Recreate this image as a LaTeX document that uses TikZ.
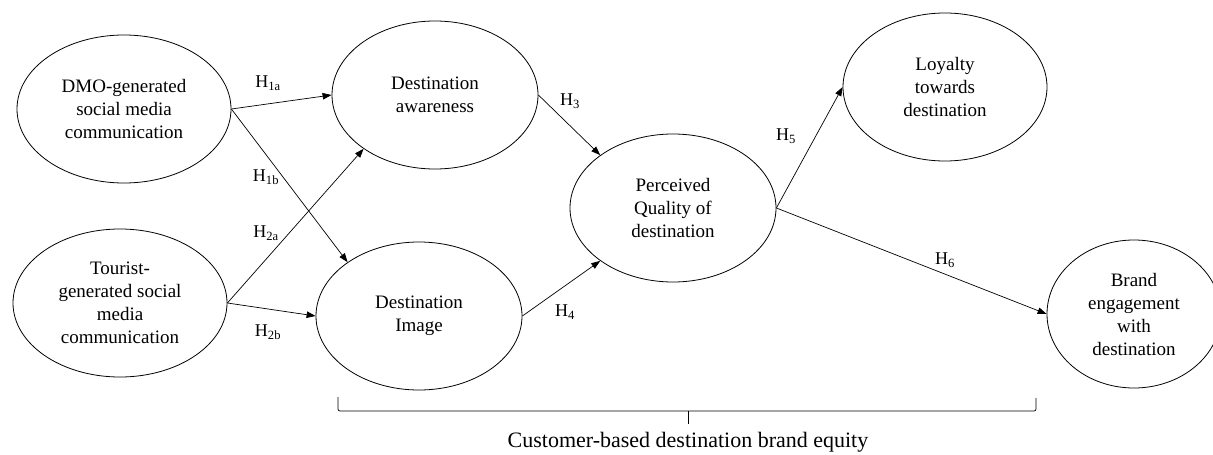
\documentclass[tikz,border=0pt]{standalone}
\usepackage{fontspec}
\setmainfont{Liberation Serif}
\usepackage{tikz}
\usetikzlibrary{shapes.geometric,arrows.meta}
\tikzstyle{construct} = [draw=black, ellipse, line width=0.8pt, inner sep=0pt, minimum width=206pt, minimum height=148pt, align=center, font={\fontsize{19}{23}\selectfont}]
\tikzstyle{hyp} = [inner sep=1pt, font={\fontsize{18}{22}\selectfont}]
\tikzstyle{path} = [-{Triangle[length=9pt,width=6.5pt]}, line width=0.7pt]

\begin{document}
\begin{tikzpicture}[x=1pt,y=-1pt]
    \useasboundingbox (0,0) rectangle (1213,455);
    \node[construct,minimum width=214pt](dmo) at (124,109){DMO-generated\\social media\\communication};
    \node[construct,minimum width=214pt](tour) at (120,303){Tourist-\\generated social\\media\\communication};
    \node[construct](aw) at (435,95){Destination\\awareness};
    \node[construct](im) at (419,316){Destination\\Image};
    \node[construct](pq) at (673,208){Perceived\\Quality of\\destination};
    \node[construct,minimum width=204pt](loy) at (945,87){Loyalty\\towards\\destination};
    \node[construct,minimum width=174pt](be) at (1134,314){Brand\\engagement\\with\\destination};
    \draw[path](dmo.east)--(aw.west);
    \draw[path](dmo.east)--(im.143);
    \draw[path](tour.east)--(aw.217);
    \draw[path](tour.east)--(im.west);
    \draw[path](aw.east)--(pq.144);
    \draw[path](im.east)--(pq.216);
    \draw[path](pq.east)--(loy.west);
    \draw[path](pq.east)--(be.west);
    \node[hyp](h1a) at (268,83){H\textsubscript{1a}};
    \node[hyp](h1b) at (266,177){H\textsubscript{1b}};
    \node[hyp](h2a) at (266,233){H\textsubscript{2a}};
    \node[hyp](h2b) at (268,332){H\textsubscript{2b}};
    \node[hyp](h3) at (570,101){H\textsubscript{3}};
    \node[hyp](h4) at (565,312){H\textsubscript{4}};
    \node[hyp](h5) at (786,136){H\textsubscript{5}};
    \node[hyp](h6) at (945,260){H\textsubscript{6}};
    % bracket under the equity constructs
    \coordinate (bl) at (338,397);
    \coordinate (br) at (1036,398);
    \coordinate (bm) at (688,424);
    \draw[line width=0.7pt,rounded corners=2pt](bl)--(338,411)--(1036,411)--(br);
    \draw[line width=0.7pt](688,411)--(bm);
    \node[font={\fontsize{22}{26}\selectfont}](cbbe) at (688,442){Customer-based destination brand equity};
  \end{tikzpicture}
\end{document}
